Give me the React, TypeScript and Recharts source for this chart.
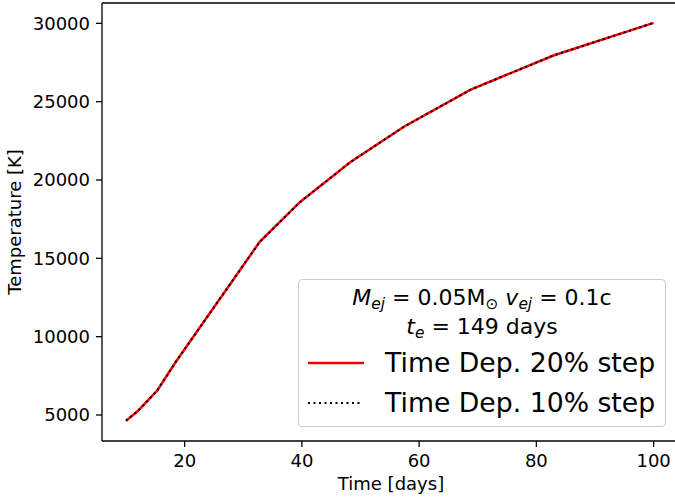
import { LineChart, Line, XAxis, YAxis, ReferenceLine } from "recharts";

// time grid in days
const TIME = [10, 12, 15.3, 18.5, 32.8, 39.7, 48.3, 57.4, 68.7, 82.9, 100];
// temperature [K] for both step sizes (the two curves overlap)
const TEMP_STEP20 = [4630, 5250, 6550, 8400, 16050, 18600, 21150, 23400, 25750, 27950, 30030];
const TEMP_STEP10 = [4630, 5250, 6550, 8400, 16050, 18600, 21150, 23400, 25750, 27950, 30030];

const X_TICKS = [20, 40, 60, 80, 100];
const Y_TICKS = [5000, 10000, 15000, 20000, 25000, 30000];
const Y_MAX = 31300;

const SERIES_NAMES = ["Time Dep. 20% step", "Time Dep. 10% step"];

const data = TIME.map((t, i) => ({
  t,
  step20: TEMP_STEP20[i],
  step10: TEMP_STEP10[i],
}));

const FONT = "DejaVu Sans";
const tickStyle = { fill: "#000", fontSize: 18, fontFamily: FONT };

function YLabel(props: any) {
  const vb = props.viewBox;
  const cx = vb.x + 20.5;
  const cy = vb.y + vb.height / 2;
  return (
    <text
      x={cx}
      y={cy}
      transform={`rotate(-90 ${cx} ${cy})`}
      textAnchor="middle"
      fontSize={18}
      fontFamily={FONT}
      fill="#000"
    >
      Temperature [K]
    </text>
  );
}

function XLabel(props: any) {
  const vb = props.viewBox;
  return (
    <text
      x={vb.x + vb.width / 2}
      y={vb.y + 49}
      textAnchor="middle"
      fontSize={18}
      fontFamily={FONT}
      fill="#000"
    >
      Time [days]
    </text>
  );
}

const sub = { fontSize: "0.7em", verticalAlign: "-0.25em" } as const;

function LegendBox() {
  const titleStyle = {
    position: "absolute" as const,
    left: 298,
    width: 368,
    textAlign: "center" as const,
    fontFamily: FONT,
    fontSize: 22,
    lineHeight: 1,
    color: "#000",
    whiteSpace: "nowrap" as const,
  };
  const entryStyle = {
    position: "absolute" as const,
    left: 385,
    fontFamily: FONT,
    fontSize: 26.7,
    lineHeight: 1,
    color: "#000",
    whiteSpace: "nowrap" as const,
  };
  return (
    <>
      <div
        style={{
          position: "absolute",
          left: 298,
          top: 279,
          width: 366,
          height: 146,
          border: "1px solid #cccccc",
          borderRadius: 4,
          background: "rgba(255,255,255,0.8)",
        }}
      />
      <div style={{ ...titleStyle, top: 298 - 10.6 }}>
        <i>M</i>
        <i style={sub}>ej</i> = 0.05M<span style={sub}>⊙</span> <i>v</i>
        <i style={sub}>ej</i> = 0.1c
      </div>
      <div style={{ ...titleStyle, top: 327 - 10.6 }}>
        <i>t</i>
        <i style={sub}>e</i> = 149 days
      </div>
      <svg
        width={675}
        height={500}
        style={{ position: "absolute", left: 0, top: 0, pointerEvents: "none" }}
      >
        <line x1={308} x2={364} y1={363} y2={363} stroke="#ff0000" strokeWidth={2.5} />
        <line
          x1={308}
          x2={362}
          y1={403}
          y2={403}
          stroke="#000"
          strokeWidth={2}
          strokeDasharray="2 3.5"
        />
      </svg>
      <div style={{ ...entryStyle, top: 363 - 12.85 }}>{SERIES_NAMES[0]}</div>
      <div style={{ ...entryStyle, top: 402.5 - 12.85 }}>{SERIES_NAMES[1]}</div>
    </>
  );
}

export default function App() {
  return (
    <div
      style={{
        position: "absolute",
        left: 0,
        top: 0,
        width: 675,
        height: 500,
        overflow: "hidden",
        background: "#fff",
      }}
    >
      <LineChart
        width={690}
        height={500}
        data={data}
        margin={{ top: 3, right: 10, bottom: 0, left: 0 }}
      >
        <XAxis
          dataKey="t"
          type="number"
          domain={[5.9, 104.5]}
          ticks={X_TICKS}
          allowDataOverflow
          height={59}
          tick={tickStyle}
          tickSize={6}
          tickMargin={7}
          axisLine={{ stroke: "#000", strokeWidth: 1.3 }}
          tickLine={{ stroke: "#000", strokeWidth: 1.3 }}
          label={XLabel}
        />
        <YAxis
          type="number"
          domain={[3340, Y_MAX]}
          ticks={Y_TICKS}
          allowDataOverflow
          width={102}
          tick={tickStyle}
          tickSize={6}
          tickMargin={6}
          axisLine={{ stroke: "#000", strokeWidth: 1.3 }}
          tickLine={{ stroke: "#000", strokeWidth: 1.3 }}
          label={YLabel}
        />
        {/* top spine of the axes frame */}
        <ReferenceLine y={Y_MAX} stroke="#000" strokeWidth={1.3} ifOverflow="visible" />
        <Line
          dataKey="step20"
          name={SERIES_NAMES[0]}
          stroke="#ff0000"
          strokeWidth={2.5}
          dot={false}
          isAnimationActive={false}
        />
        <Line
          dataKey="step10"
          name={SERIES_NAMES[1]}
          stroke="#000"
          strokeWidth={2}
          strokeDasharray="2 3.5"
          dot={false}
          isAnimationActive={false}
        />
      </LineChart>
      <LegendBox />
    </div>
  );
}
